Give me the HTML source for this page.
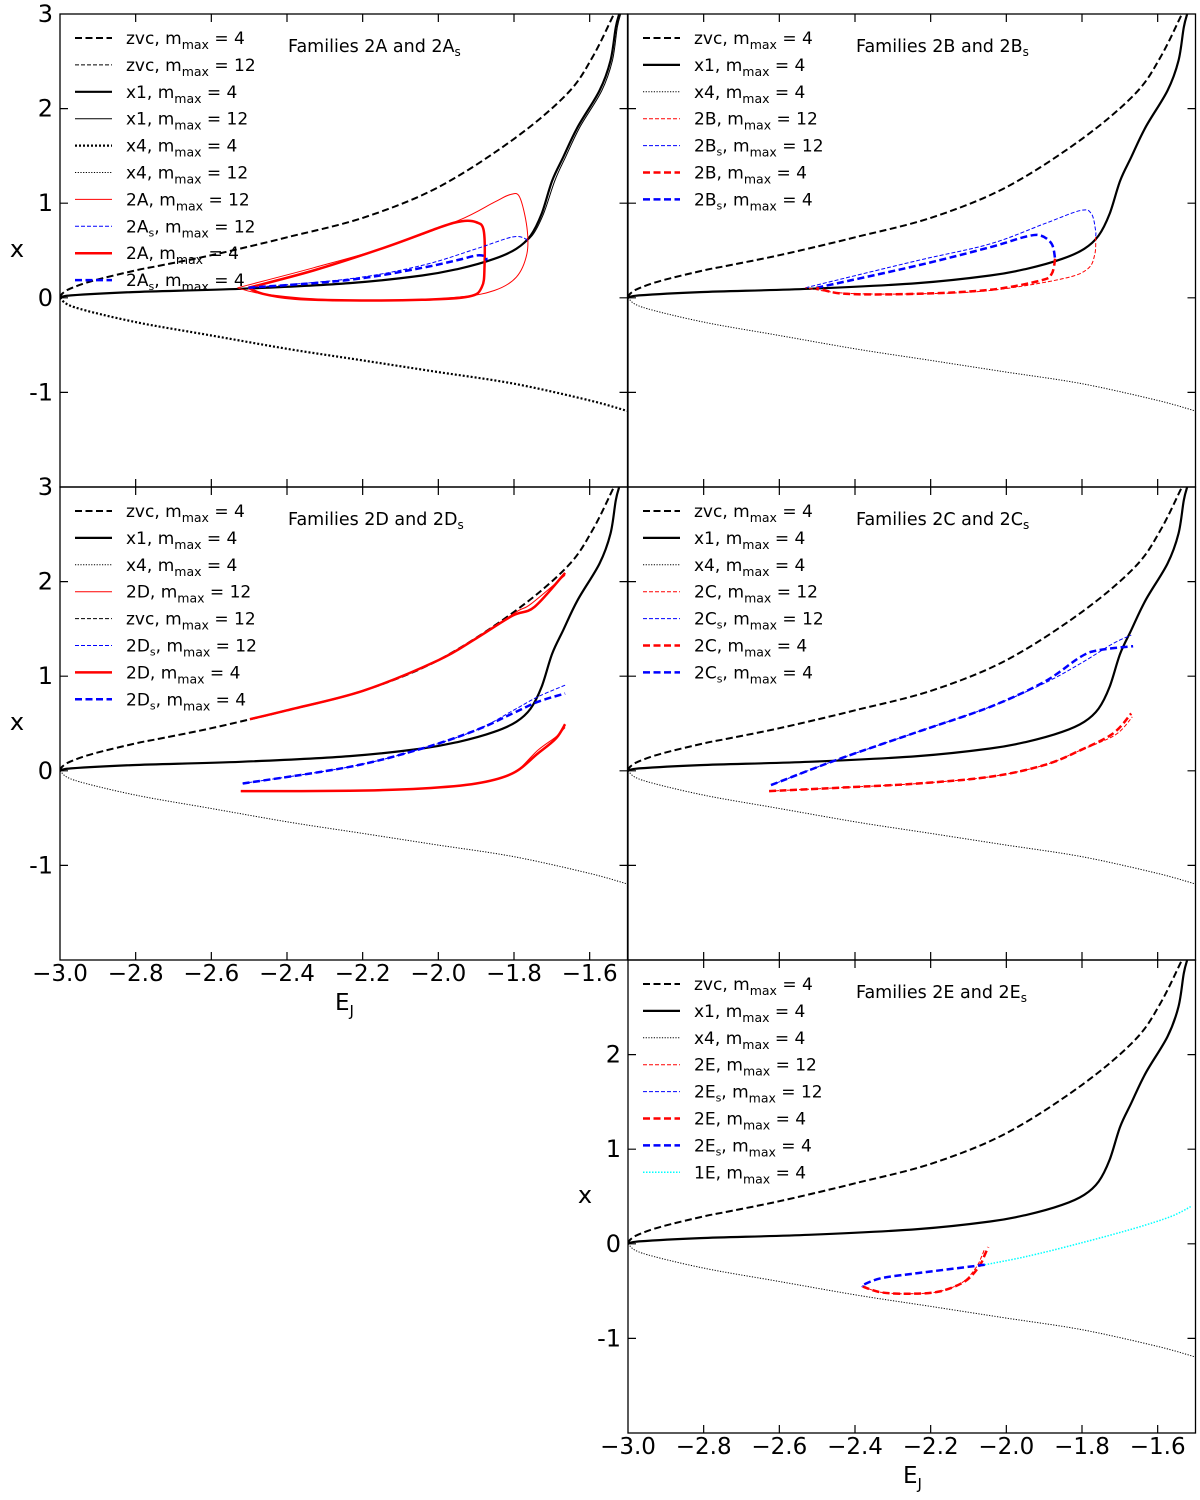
<!DOCTYPE html>
<html><head><meta charset="utf-8"><style>
html,body{margin:0;padding:0;background:#fff;}
svg{display:block;font-family:"DejaVu Sans","Liberation Sans",sans-serif;}
</style></head>
<body>
<svg id="fig" width="1200" height="1500" viewBox="0 0 1200 1500" xmlns="http://www.w3.org/2000/svg"></svg>
<script>
// ---- data (E_J, x) ----
const xTicks = [-2.8,-2.6,-2.4,-2.2,-2.0,-1.8,-1.6];
const xTickLabels = ["\u22123.0","\u22122.8","\u22122.6","\u22122.4","\u22122.2","\u22122.0","\u22121.8","\u22121.6"];
const xTickLabelVals = [-3.0,-2.8,-2.6,-2.4,-2.2,-2.0,-1.8,-1.6];
const yTicks = [-1,0,1,2,3];
const yTickLabels = ["-1","0","1","2","3"];
const zvcE = [-3.0,-2.995,-2.974,-2.913,-2.8,-2.736,-2.6,-2.471,-2.4,-2.2,-2.0,-1.8,-1.66,-1.593,-1.536];
const zvcX = [0,0.04,0.095,0.18,0.29,0.34,0.45,0.57,0.64,0.845,1.169,1.68,2.155,2.54,3.0];
const x1E = [-3.0,-2.971,-2.809,-2.522,-2.234,-2.043,-1.947,-1.852,-1.794,-1.756,-1.727,-1.699,-1.670,-1.632,-1.574,-1.545,-1.531,-1.522];
const x1X = [0,0.025,0.060,0.095,0.155,0.236,0.306,0.412,0.518,0.658,0.887,1.239,1.486,1.803,2.190,2.507,2.859,3.0];
const x1bE = [-3.0,-2.971,-2.809,-2.522,-2.234,-2.043,-1.947,-1.852,-1.794,-1.752,-1.722,-1.692,-1.664,-1.626,-1.568,-1.540,-1.527,-1.518];
const x1bX = [0,0.025,0.060,0.095,0.155,0.236,0.306,0.412,0.518,0.658,0.887,1.239,1.486,1.803,2.190,2.507,2.859,3.0];
const x4E = [-3.0,-2.962,-2.8,-2.6,-2.4,-2.2,-2.0,-1.8,-1.6,-1.5];
const x4X = [0,-0.099,-0.257,-0.398,-0.539,-0.662,-0.785,-0.908,-1.085,-1.197];
// 2A / 2As
const a4E = [-2.502,-2.330,-2.139,-1.995,-1.938,-1.900,-1.880,-1.878,-1.885,-1.919,-2.043,-2.234,-2.378,-2.464,-2.502];
const a4X = [0.106,0.289,0.535,0.746,0.810,0.799,0.711,0.324,0.113,0.014,-0.021,-0.028,-0.011,0.042,0.106];
const a12E = [-2.531,-2.330,-2.139,-1.947,-1.852,-1.809,-1.785,-1.766,-1.766,-1.794,-1.852,-1.947,-2.139,-2.330,-2.474,-2.531];
const a12X = [0.106,0.317,0.535,0.817,1.011,1.092,1.063,0.746,0.465,0.218,0.077,0.007,-0.028,-0.011,0.049,0.106];
const as12E = [-2.502,-2.234,-2.043,-1.900,-1.823,-1.794,-1.775,-1.764];
const as12X = [0.106,0.201,0.342,0.518,0.623,0.648,0.634,0.606];
const as4E = [-2.502,-2.234,-2.043,-1.947,-1.900,-1.876,-1.873];
const as4X = [0.106,0.190,0.317,0.401,0.447,0.437,0.394];
// 2B / 2Bs
const bs12E = [-2.531,-2.234,-2.043,-1.900,-1.804,-1.775,-1.764,-1.764];
const bs12X = [0.106,0.394,0.570,0.782,0.923,0.887,0.711,0.641];
const b12E = [-1.764,-1.766,-1.785,-1.852,-2.043,-2.234,-2.426,-2.531];
const b12X = [0.641,0.465,0.306,0.201,0.077,0.042,0.049,0.106];
const bs4E = [-2.502,-2.234,-2.043,-1.947,-1.909,-1.880,-1.871];
const bs4X = [0.106,0.342,0.535,0.648,0.658,0.570,0.412];
const b4E = [-1.871,-1.880,-1.909,-2.043,-2.234,-2.426,-2.502];
const b4X = [0.412,0.254,0.183,0.085,0.042,0.042,0.106];
// 2D / 2Ds
const dU4E = [-2.498,-2.4,-2.2,-2.0,-1.900,-1.804,-1.746,-1.665];
const dU4X = [0.545,0.640,0.845,1.169,1.40,1.640,1.732,2.092];
const dU12E = [-2.498,-2.4,-2.2,-2.0,-1.900,-1.794,-1.756,-1.665];
const dU12X = [0.545,0.640,0.845,1.169,1.40,1.680,1.761,2.067];
const dL4E = [-2.522,-2.234,-2.043,-1.900,-1.804,-1.737,-1.689,-1.665];
const dL4X = [-0.215,-0.211,-0.187,-0.134,-0.028,0.183,0.342,0.493];
const dL12E = [-2.522,-2.234,-2.043,-1.900,-1.804,-1.737,-1.689,-1.665];
const dL12X = [-0.215,-0.211,-0.187,-0.134,-0.028,0.218,0.36,0.458];
const ds4E = [-2.517,-2.234,-2.043,-1.900,-1.804,-1.737,-1.665];
const ds4X = [-0.134,0.042,0.236,0.430,0.606,0.729,0.817];
const ds12E = [-2.517,-2.234,-2.043,-1.900,-1.804,-1.737,-1.665];
const ds12X = [-0.134,0.042,0.236,0.430,0.634,0.782,0.905];
// 2C / 2Cs
const cs4E = [-2.622,-2.445,-2.234,-2.043,-1.900,-1.804,-1.756,-1.665];
const cs4X = [-0.151,0.120,0.412,0.676,0.940,1.204,1.275,1.317];
const cs12E = [-2.622,-2.445,-2.234,-2.043,-1.900,-1.804,-1.718,-1.670];
const cs12X = [-0.151,0.120,0.412,0.676,0.925,1.134,1.345,1.433];
const c4E = [-2.627,-2.426,-2.234,-2.043,-1.900,-1.804,-1.718,-1.670];
const c4X = [-0.215,-0.176,-0.134,-0.063,0.060,0.218,0.394,0.606];
const c12E = [-2.627,-2.426,-2.234,-2.043,-1.900,-1.804,-1.712,-1.667];
const c12X = [-0.215,-0.176,-0.134,-0.063,0.060,0.218,0.380,0.570];
// 2E / 2Es / 1E
const es4E = [-2.057,-2.234,-2.330,-2.378,-2.380];
const es4X = [-0.222,-0.310,-0.363,-0.433,-0.451];
const e4E = [-2.380,-2.330,-2.254,-2.177,-2.110,-2.072,-2.057,-2.048];
const e4X = [-0.451,-0.514,-0.528,-0.504,-0.398,-0.239,-0.116,-0.035];
const e12E = [-2.380,-2.330,-2.254,-2.177,-2.115,-2.080,-2.066,-2.058];
const e12X = [-0.451,-0.514,-0.528,-0.504,-0.405,-0.250,-0.140,-0.060];
const oneE = [-2.057,-1.947,-1.804,-1.660,-1.565,-1.512];
const oneX = [-0.222,-0.134,0.007,0.165,0.289,0.394];

// ---- styles ----
const ST = {
  zvc4:{c:"#000",w:2,d:"7,3.5"}, zvc12:{c:"#000",w:1,d:"4,2"},
  x1_4:{c:"#000",w:2.2,d:""}, x1_12:{c:"#000",w:1,d:""},
  x4_4b:{c:"#000",w:2.2,d:"2,2"}, x4_t:{c:"#000",w:1,d:"1.2,1.5"},
  r12s:{c:"#f00",w:1,d:""}, r4s:{c:"#f00",w:2.5,d:""},
  r12d:{c:"#f00",w:1,d:"4,2"}, r4d:{c:"#f00",w:2.5,d:"7,3.5"},
  b12d:{c:"#00f",w:1,d:"4,2"}, b4d:{c:"#00f",w:2.5,d:"7,3.5"},
  cy:{c:"#0ff",w:1.5,d:"1.5,1.5"}
};
const NS="http://www.w3.org/2000/svg";
const svg=document.getElementById('fig');
const PW=567.5, PH=473;
function mk(tag,attrs,parent){const e=document.createElementNS(NS,tag);for(const k in attrs)e.setAttribute(k,attrs[k]);(parent||svg).appendChild(e);return e;}
function smooth(P){
  let d='M'+P[0][0].toFixed(1)+','+P[0][1].toFixed(1);
  for(let i=0;i<P.length-1;i++){
    const p0=P[Math.max(0,i-1)],p1=P[i],p2=P[i+1],p3=P[Math.min(P.length-1,i+2)];
    const c1=[p1[0]+(p2[0]-p0[0])/6,p1[1]+(p2[1]-p0[1])/6];
    const c2=[p2[0]-(p3[0]-p1[0])/6,p2[1]-(p3[1]-p1[1])/6];
    d+='C'+c1[0].toFixed(1)+','+c1[1].toFixed(1)+' '+c2[0].toFixed(1)+','+c2[1].toFixed(1)+' '+p2[0].toFixed(1)+','+p2[1].toFixed(1);
  }
  return d;
}

function panel(id,x0,y0,opts){
  const sx=E=>x0+(E+3)*PW/1.5;
  const sy=v=>y0+(3-v)*PH/5;
  const g=mk('g',{});
  
  
  const cp=mk('clipPath',{id:'clip-'+id},g);
  mk('rect',{x:x0,y:y0,width:PW,height:PH},cp);
  const plot=mk('g',{'clip-path':'url(#clip-'+id+')'},g);
  
  
  function line(E,X,st,name){
    const P=E.map((e,i)=>[sx(e),sy(X[i])]);
    const p=mk('path',{d:smooth(P),fill:'none',stroke:st.c,'stroke-width':st.w,'stroke-dasharray':st.d||'none','stroke-linejoin':'round'},plot);
    
    
  }
  opts.series.forEach(s=>line(s[0],s[1],ST[s[2]],s[3]));
  const fr=mk('rect',{x:x0,y:y0,width:PW,height:PH,fill:'none',stroke:'#000','stroke-width':1.3},g);
  
  
  xTicks.forEach(t=>{
    const tk=mk('path',{d:`M${sx(t)},${y0}v8M${sx(t)},${y0+PH}v-8`,stroke:'#000','stroke-width':1.2},g);
    
    
  });
  yTicks.forEach(t=>{
    if(t===3) return;
    const tk=mk('path',{d:`M${x0},${sy(t)}h8M${x0+PW},${sy(t)}h-8`,stroke:'#000','stroke-width':1.2},g);
    
    
  });
  if(opts.yLabels){
    yTicks.forEach((t,i)=>{
      if(t===3 && !opts.y3) return;
      const tl=mk('text',{x:x0-7,y:sy(t)+8,'text-anchor':'end','font-size':24},g);
      tl.textContent=yTickLabels[i];
      
      
    });
    const yl=mk('text',{x:x0-43,y:y0+243,'text-anchor':'middle','font-size':24},g);
    yl.textContent='x';
    
    
  }
  if(opts.xLabels){
    xTickLabelVals.forEach((t,i)=>{
      const tl=mk('text',{x:sx(t),y:y0+PH+21,'text-anchor':'middle','font-size':23},g);
      tl.textContent=xTickLabels[i];
      
      
    });
    const xl=mk('text',{x:x0+275,y:y0+PH+50,'text-anchor':'start','font-size':23},g);
    xl.textContent='E';
    const sub=mk('tspan',{dy:6,'font-size':15},xl);sub.textContent='J';
    
    
  }
  const ti=mk('text',{x:x0+228,y:y0+38,'font-size':17.5},g);
  ti.textContent='Families '+opts.fam+' and '+opts.fam;
  const ts=mk('tspan',{dy:4,'font-size':12},ti);ts.textContent='s';
  
  
  opts.legend.forEach((L,i)=>{
    const y=y0+24+i*26.9;
    const st=ST[L[3]];
    const lg=mk('g',{},g);
    
    
    mk('line',{x1:x0+15,x2:x0+52,y1:y,y2:y,stroke:st.c,'stroke-width':st.w,'stroke-dasharray':st.d||'none'},lg);
    const t=mk('text',{x:x0+66,y:y+6,'font-size':17},lg);
    t.appendChild(document.createTextNode(L[0]));
    if(L[1]){const s=mk('tspan',{dy:4,'font-size':11},t);s.textContent=L[1];const r=mk('tspan',{dy:-4},t);r.textContent=', m';}
    else t.appendChild(document.createTextNode(', m'));
    const m=mk('tspan',{dy:5,'font-size':12.5},t);m.textContent='max';
    const v=mk('tspan',{dy:-5},t);v.textContent=' = '+L[2];
  });
}

const base=[[zvcE,zvcX,'zvc4','zvc-curve'],[x1E,x1X,'x1_4','x1-curve'],[x4E,x4X,'x4_t','x4-curve']];
panel('2a',60,14,{fam:'2A',yLabels:true,y3:true,series:[
  [zvcE,zvcX,'zvc4','zvc-curve'],[x1bE,x1bX,'x1_12','x1-m12-curve'],[x1E,x1X,'x1_4','x1-curve'],[x4E,x4X,'x4_4b','x4-curve'],
  [a12E,a12X,'r12s','2a-m12'],[a4E,a4X,'r4s','2a-m4'],[as12E,as12X,'b12d','2as-m12'],[as4E,as4X,'b4d','2as-m4']],
  legend:[['zvc','','4','zvc4'],['zvc','','12','zvc12'],['x1','','4','x1_4'],['x1','','12','x1_12'],['x4','','4','x4_4b'],['x4','','12','x4_t'],
  ['2A','','12','r12s'],['2A','s','12','b12d'],['2A','','4','r4s'],['2A','s','4','b4d']]});
panel('2b',628,14,{fam:'2B',series:base.concat([[bs12E,bs12X,'b12d','2bs-m12'],[b12E,b12X,'r12d','2b-m12'],[bs4E,bs4X,'b4d','2bs-m4'],[b4E,b4X,'r4d','2b-m4']]),
  legend:[['zvc','','4','zvc4'],['x1','','4','x1_4'],['x4','','4','x4_t'],['2B','','12','r12d'],['2B','s','12','b12d'],['2B','','4','r4d'],['2B','s','4','b4d']]});
panel('2d',60,487,{fam:'2D',yLabels:true,y3:true,xLabels:true,series:base.concat([[dU12E,dU12X,'r12s','2d-upper-m12'],[dU4E,dU4X,'r4s','2d-upper-m4'],[dL12E,dL12X,'r12s','2d-lower-m12'],[dL4E,dL4X,'r4s','2d-lower-m4'],[ds12E,ds12X,'b12d','2ds-m12'],[ds4E,ds4X,'b4d','2ds-m4']]),
  legend:[['zvc','','4','zvc4'],['x1','','4','x1_4'],['x4','','4','x4_t'],['2D','','12','r12s'],['zvc','','12','zvc12'],['2D','s','12','b12d'],['2D','','4','r4s'],['2D','s','4','b4d']]});
panel('2c',628,487,{fam:'2C',series:base.concat([[cs12E,cs12X,'b12d','2cs-m12'],[cs4E,cs4X,'b4d','2cs-m4'],[c12E,c12X,'r12d','2c-m12'],[c4E,c4X,'r4d','2c-m4']]),
  legend:[['zvc','','4','zvc4'],['x1','','4','x1_4'],['x4','','4','x4_t'],['2C','','12','r12d'],['2C','s','12','b12d'],['2C','','4','r4d'],['2C','s','4','b4d']]});
panel('2e',628,960,{fam:'2E',yLabels:true,xLabels:true,series:base.concat([[oneE,oneX,'cy','1e-m4'],[e12E,e12X,'r12d','2e-m12'],[e4E,e4X,'r4d','2e-m4'],[es4E,es4X,'b4d','2es-m4']]),
  legend:[['zvc','','4','zvc4'],['x1','','4','x1_4'],['x4','','4','x4_t'],['2E','','12','r12d'],['2E','s','12','b12d'],['2E','','4','r4d'],['2E','s','4','b4d'],['1E','','4','cy']]});
</script>
</body></html>
